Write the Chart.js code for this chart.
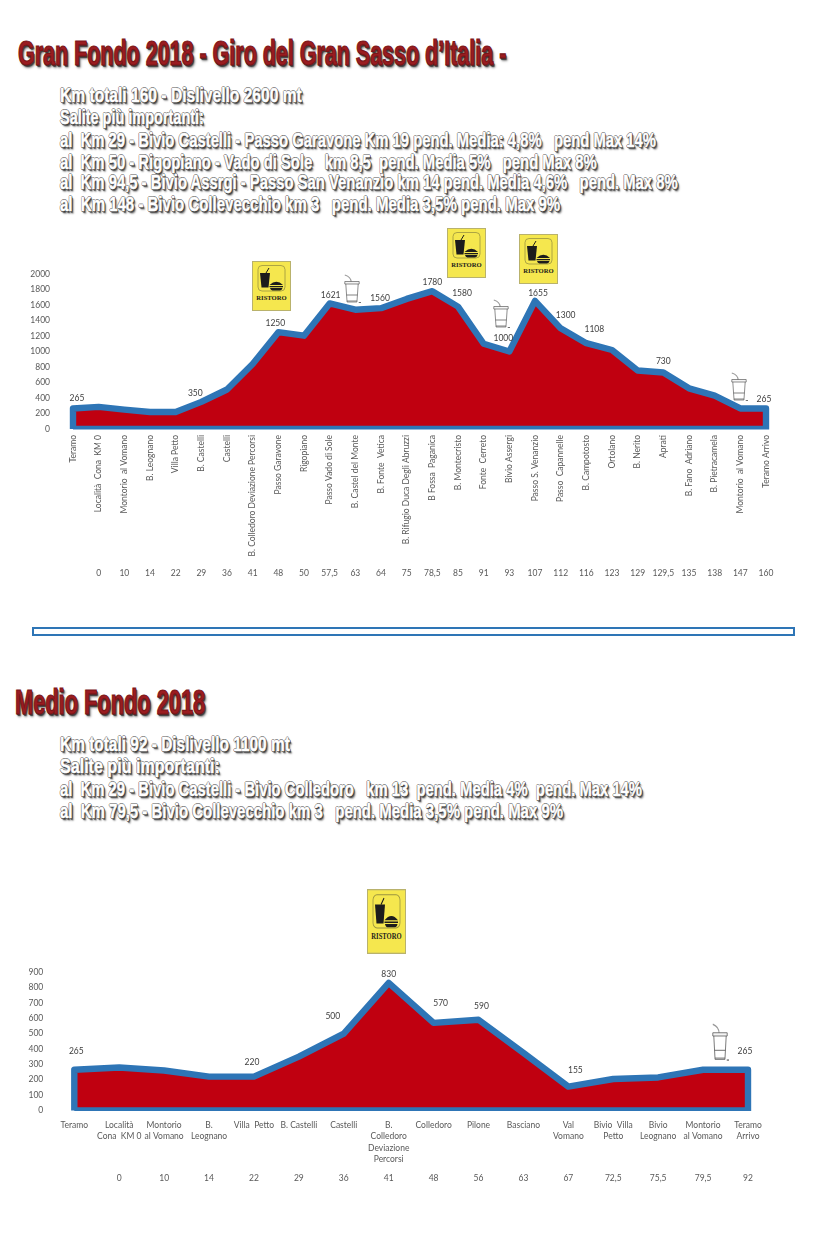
<!DOCTYPE html>
<html lang="it">
<head>
<meta charset="UTF-8" />
<title>Gran Fondo 2018 - Medio Fondo 2018</title>
<style>
  html,body{margin:0;padding:0;background:#fff}
  #page{position:relative;width:830px;height:1238px;overflow:hidden}
  canvas{position:absolute;left:0}
  .ttl,.sub{position:absolute;white-space:pre;transform-origin:0 50%;font-family:"Liberation Sans Narrow",sans-serif;font-weight:bold;line-height:1}
  .ttl{font-size:35px;color:#9a1c20;-webkit-text-stroke:1.2px #7a1518;text-shadow:1px 1px 0 #333,2px 2px 1px #444,3px 3px 3px #888}
  .sub{font-size:21px;color:#fff;-webkit-text-stroke:.5px #fff;text-shadow:1px 0 0 #444,0 1px 0 #444,-1px 0 0 #777,0 -1px 0 #777,1px 1px 0 #333,2px 2px 1px #555,3px 3px 2px #aaa}
  #frame{position:absolute;left:32px;top:627px;width:759px;height:5px;border:2px solid #2e75b6}
  .ico{position:absolute;overflow:visible}
</style>
<script src="https://cdn.jsdelivr.net/npm/chart.js"></script>
</head>
<body>
<svg width="0" height="0" style="position:absolute">
  <symbol id="ristoro" viewBox="0 0 39 50" preserveAspectRatio="none">
    <rect x=".5" y=".5" width="38" height="49" fill="#f5e74e" stroke="#b9b26c"/>
    <rect x="6" y="4.5" width="27" height="25.5" rx="4" fill="none" stroke="#9a9440" stroke-width=".8"/>
    <path d="M8 12H18L16.5 26.5H9.5Z" fill="#1c1c1c"/>
    <path d="M14 12L17 7" stroke="#1c1c1c" fill="none"/>
    <path d="M17.5 24Q24.5 17.5 31 24ZM17.5 25H31V26.2H17.5ZM18 27H30.5Q30 29.4 28 29.4H20.5Q18.5 29.4 18 27Z" fill="#1c1c1c"/>
    <text x="19.5" y="38.5" text-anchor="middle" font-family="Liberation Sans Narrow" font-weight="bold" font-size="6.6" fill="#1c1c1c">RISTORO</text>
  </symbol>
  <symbol id="cup" viewBox="0 0 20 30" preserveAspectRatio="none">
    <path d="M9 8Q9 3 2 1" fill="none" stroke="#999" stroke-width="1.2"/>
    <path d="M3 8.5H17L15.5 28H4.5Z" fill="#fff" stroke="#555" stroke-width=".7"/>
    <path d="M2 7.5H18V10H2Z" fill="#f4f4f4" stroke="#555" stroke-width=".7"/>
    <path d="M4 21H16M4.5 27H15.5" stroke="#444" stroke-width=".7"/>
    <path d="M17.5 28.5H20" stroke="#444" stroke-width=".8"/>
  </symbol>
</svg>

<div id="page">
  <div class="ttl" data-w="488" style="left:18px;top:35px">Gran Fondo 2018 - Giro del Gran Sasso d’Italia -</div>
  <div class="sub" data-w="242" style="left:60px;top:84px">Km totali 160 - Dislivello 2600 mt</div>
  <div class="sub" data-w="144" style="left:60px;top:106px">Salite più importanti:</div>
  <div class="sub" data-w="596" style="left:60px;top:129px">al  Km 29 - Bivio Castelli - Passo Garavone Km 19 pend. Media: 4,8%   pend Max 14%</div>
  <div class="sub" data-w="537" style="left:60px;top:151px">al  Km 50 - Rigopiano - Vado di Sole   km 8,5  pend. Media 5%   pend Max 8%</div>
  <div class="sub" data-w="618" style="left:60px;top:171px">al  Km 94,5 - Bivio Assrgi - Passo San Venanzio km 14 pend. Media 4,6%   pend. Max 8%</div>
  <div class="sub" data-w="500" style="left:60px;top:193px">al  Km 148 - Bivio Collevecchio km 3   pend. Media 3,5% pend. Max 9%</div>

  <canvas id="grand" width="830" height="344" style="top:246px"></canvas>
  <div id="frame"></div>

  <div class="ttl" data-w="190" style="left:15px;top:684px">Medio Fondo 2018</div>
  <div class="sub" data-w="230" style="left:60px;top:733px">Km totali 92 - Dislivello 1100 mt</div>
  <div class="sub" data-w="160" style="left:60px;top:755px">Salite più importanti:</div>
  <div class="sub" data-w="582" style="left:60px;top:778px">al  Km 29 - Bivio Castelli - Bivio Colledoro   km 13  pend. Media 4%  pend. Max 14%</div>
  <div class="sub" data-w="503" style="left:60px;top:800px">al  Km 79,5 - Bivio Collevecchio km 3   pend. Media 3,5% pend. Max 9%</div>

  <canvas id="medio" width="830" height="294" style="top:936px"></canvas>

  <svg class="ico" style="left:252px;top:261px;width:39px;height:50px"><use href="#ristoro" width="39" height="50"/></svg>
  <svg class="ico" style="left:447px;top:228px;width:39px;height:50px"><use href="#ristoro" width="39" height="50"/></svg>
  <svg class="ico" style="left:519px;top:234px;width:39px;height:50px"><use href="#ristoro" width="39" height="50"/></svg>
  <svg class="ico" style="left:367px;top:889px;width:39px;height:65px"><use href="#ristoro" width="39" height="65"/></svg>
  <svg class="ico" style="left:343px;top:274px;width:18px;height:30px"><use href="#cup" width="18" height="30"/></svg>
  <svg class="ico" style="left:492px;top:299px;width:18px;height:30px"><use href="#cup" width="18" height="30"/></svg>
  <svg class="ico" style="left:730px;top:372px;width:18px;height:30px"><use href="#cup" width="18" height="30"/></svg>
  <svg class="ico" style="left:711px;top:1023px;width:18px;height:39px"><use href="#cup" width="18" height="39"/></svg>
</div>

<script>
const grandPlaces=['Teramo','Località  Cona  KM 0','Montorio  al Vomano','B. Leognano','Villa Petto','B. Castelli','Castelli','B. Colledoro Deviazione Percorsi','Passo Garavone','Rigopiano','Passo Vado di Sole','B. Castel del Monte','B. Fonte  Vetica','B. Rifugio Duca Degli Abruzzi','B Fossa  Paganica','B. Montecristo','Fonte  Cerreto','Bivio Assergi','Passo S. Venanzio','Passo  Capannelle','B. Campotosto','Ortolano','B. Nerito','Aprati','B. Fano  Adriano','B. Pietracamela','Montorio  al Vomano','Teramo Arrivo'];
const grandKm=['','0','10','14','22','29','36','41','48','50','57,5','63','64','75','78,5','85','91','93','107','112','116','123','129','129,5','135','138','147','160'];
const grandAlt=[265,285,250,220,220,350,510,840,1250,1205,1621,1540,1560,1680,1780,1580,1100,1000,1655,1300,1108,1020,755,730,525,430,265,265];
const grandShown=[0,5,8,10,12,14,15,17,18,19,20,23,27];

const medioPlaces=[['Teramo'],['Località','Cona  KM 0'],['Montorio','al Vomano'],['B.','Leognano'],['Villa  Petto'],['B. Castelli'],['Castelli'],['B.','Colledoro','Deviazione','Percorsi'],['Colledoro'],['Pilone'],['Basciano'],['Val','Vomano'],['Bivio  Villa','Petto'],['Bivio','Leognano'],['Montorio','al Vomano'],['Teramo','Arrivo']];
const medioKm=['','0','10','14','22','29','36','41','48','56','63','67','72,5','75,5','79,5','92'];
const medioAlt=[265,280,260,220,220,350,500,830,570,590,375,155,205,215,265,265];
const medioShown=[0,4,6,7,8,9,11,15];

// label offsets from the point, px
const grandShift={0:[4,-10.5],5:[-6,-9],8:[-3,-9],10:[1,-8],12:[-1,-10],14:[0,-9],15:[4,-13],17:[-6,-13.5],18:[3,-8],19:[5,-13],20:[8,-14],23:[0,-11.5],27:[-2,-9.5]};
const medioShift={0:[2,-18],4:[-2,-14.5],6:[-11,-17],7:[0,-9],8:[7,-20],9:[3,-14],11:[7,-16],15:[-3,-18]};

const FONT='Lato';
const GREY='#595959';

const pointLabels={
  id:'pointLabels',
  afterDatasetsDraw(chart,args,opts){
    const pts=chart.getDatasetMeta(0).data, c=chart.ctx;
    c.save();
    c.font='8.5px '+FONT;
    c.fillStyle='#404040';
    c.textAlign='center';
    c.textBaseline='middle';
    opts.shown.forEach(i=>{
      const s=opts.shift[i];
      c.fillText(String(opts.values[i]),pts[i+1].x+s[0],pts[i+1].y+s[1]);
    });
    c.restore();
  }
};

function profile(id,places,km,alt,shown,shift,box){
  const last=places.length-1;
  const top=alt.map((v,i)=>({x:i,y:v}));
  // closed outline so the stroke runs down both sides and along the base
  const outline=[{x:0,y:0},...top,{x:last,y:0},{x:0,y:0}];
  const xBase={type:'linear',min:0,max:last,grid:{display:false,drawTicks:false},border:{display:false}};
  return new Chart(document.getElementById(id),{
    type:'line',
    data:{datasets:[
      {data:outline,borderColor:'#2e75b6',borderWidth:6.4,borderJoinStyle:'round',fill:false,tension:0,pointRadius:0,clip:{left:8,top:8,right:8,bottom:.5}},
      {data:top,borderWidth:0,backgroundColor:'#c00010',fill:'origin',tension:0,pointRadius:0}
    ]},
    plugins:[pointLabels],
    options:{
      responsive:false,animation:false,
      layout:{padding:box.padding},
      plugins:{legend:{display:false},tooltip:{enabled:false},pointLabels:{values:alt,shown,shift}},
      scales:{
        x:{...xBase,position:'bottom',weight:1,
          afterFit(s){s.height=box.placeH},
          ticks:{stepSize:1,autoSkip:false,minRotation:box.rot,maxRotation:box.rot,padding:box.placePad,color:GREY,
            font:{family:FONT,size:8.5,lineHeight:1.35},callback:v=>places[v]}},
        km:{...xBase,position:'bottom',weight:2,
          afterFit(s){s.height=box.kmH},
          ticks:{stepSize:1,autoSkip:false,maxRotation:0,padding:box.kmPad,color:GREY,
            font:{family:FONT,size:8.5},callback:v=>km[v]}},
        // tick padding also pushes the plot top down, so the canvases start higher up
        y:{min:0,max:box.yMax,position:'left',grid:{display:false,drawTicks:false},border:{display:false},
          afterFit(s){s.width=box.yW},
          ticks:{stepSize:box.yStep,autoSkip:false,padding:box.yPad,color:GREY,font:{family:FONT,size:8.5},callback:v=>v}}
      }
    }
  });
}

profile('grand',grandPlaces,grandKm,grandAlt,grandShown,grandShift,
  {padding:{top:0,right:64,left:0,bottom:0},placeH:131,kmH:30,placePad:6,kmPad:8,rot:90,yMax:2000,yStep:200,yW:73,yPad:23});
profile('medio',medioPlaces,medioKm,medioAlt,medioShown,medioShift,
  {padding:{top:0,right:82,left:0,bottom:0},placeH:58,kmH:61.5,placePad:9,kmPad:5,rot:0,yMax:900,yStep:100,yW:74.3,yPad:31});

// squeeze each heading to its width
document.querySelectorAll('[data-w]').forEach(el=>{
  el.style.transform='scaleX('+(+el.dataset.w/el.offsetWidth)+')';
});
</script>
</body>
</html>
